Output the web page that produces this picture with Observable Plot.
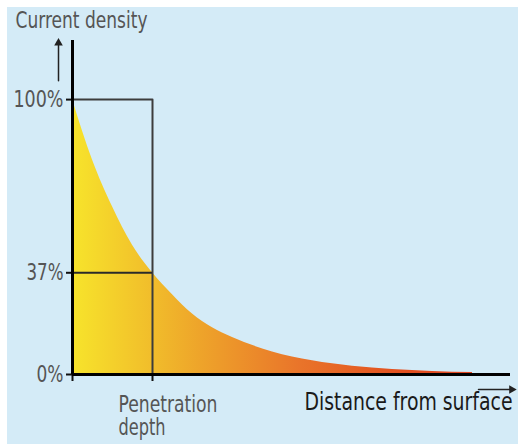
<!DOCTYPE html>
<html><head><meta charset="utf-8">
<script src="https://cdn.jsdelivr.net/npm/d3@7"></script>
<script src="https://cdn.jsdelivr.net/npm/@observablehq/plot@0.6"></script>
<style>
html,body{margin:0;padding:0;background:#fff;}
#chart{position:absolute;left:7px;top:7px;}
</style></head><body><div id="chart"></div>
<script>
// Distance in units of penetration depth, current density in % of surface value
const depth   = [0, 0.25, 0.5, 0.75, 1, 1.25, 1.5, 1.75, 2, 2.5, 3, 3.5, 4, 4.5, 5];
const density = [100, 78, 61, 47, 37, 29, 22, 17, 13.5, 8.2, 5, 3, 1.8, 1.1, 0.7];
const yTicks = [0, 37, 100];
const yTickLabels = ["0%", "37%", "100%"];
const xTicks = [0, 1];
const penetrationDepth = 1;
const surfaceLevel = 100;
const skinLevel = 37;
const xMax = 5.475;
const yMax = 121.5;
const title = "Current density";
const xTickLabel = "Penetration\ndepth";
const xLabel = "Distance from surface";
const upArrow = [{x: -0.175, y: 106.9}, {x: -0.175, y: 120.6}];
const rightArrow = [{x: 5.075, y: 0}, {x: 5.49, y: 0}];
// condensed-face text widths (px) seen in the reference
const textWidths = {"Current density": 132, "100%": 50, "37%": 37, "0%": 27,
  "Penetration": 99, "depth": 47, "Distance from surface": 208};

const curvePts = depth.map((d, i) => ({x: d, y: density[i]}));
const boxPts = [{x: 0, y: surfaceLevel}, {x: penetrationDepth, y: surfaceLevel}, {x: penetrationDepth, y: 0}];
const font = "'Liberation Sans Narrow','Arial Narrow','DejaVu Sans Condensed',sans-serif";
const gray = "#555";

const defs = () => {
  const g = d3.create("svg:g");
  const grad = g.append("defs").append("linearGradient")
    .attr("id", "heat").attr("x1", 0).attr("x2", 1).attr("y1", 0).attr("y2", 0);
  [[0, "#f7e42b"], [0.2, "#f1bd2b"], [0.32, "#eea42a"], [0.57, "#e9742a"], [0.82, "#e2501f"], [1, "#df4420"]]
    .forEach(([o, c]) => grad.append("stop").attr("offset", o).attr("stop-color", c));
  return g.node();
};

const chart = Plot.plot({
  width: 511, height: 437,
  marginLeft: 65, marginRight: 8, marginTop: 33, marginBottom: 70,
  style: {background: "#d4ebf7", fontFamily: font},
  x: {domain: [0, xMax], axis: null},
  y: {domain: [0, yMax], axis: null},
  marks: [
    defs,
    Plot.areaY(curvePts, {x: "x", y: "y", fill: "url(#heat)", curve: "monotone-x"}),
    Plot.line(boxPts, {x: "x", y: "y", stroke: "#3c3c3c", strokeWidth: 2}),
    Plot.ruleY([skinLevel], {x1: 0, x2: penetrationDepth, stroke: "#2a2a2a", strokeWidth: 2}),
    Plot.axisY({ticks: yTicks, tickFormat: d => yTickLabels[yTicks.indexOf(d)], tickSize: 6, tickPadding: 3,
      fontSize: 23, fill: gray, stroke: "#111", strokeWidth: 2, label: null}),
    Plot.axisX({ticks: xTicks, tickSize: 7, tickFormat: () => "", stroke: "#111", strokeWidth: 2, label: null}),
    Plot.ruleX([0], {y1: 0, y2: yMax, stroke: "#000", strokeWidth: 3}),
    Plot.ruleY([0], {x1: 0, x2: xMax, stroke: "#000", strokeWidth: 3}),
    Plot.text([xTickLabel], {x: penetrationDepth, y: 0, text: d => d, textAnchor: "start", lineAnchor: "top",
      dx: -34, dy: 21, fontSize: 23, fill: gray, lineHeight: 1.0}),
    Plot.text([xLabel], {x: xMax, y: 0, text: d => d, textAnchor: "end", lineAnchor: "top",
      dx: 2, dy: 18, fontSize: 25, fill: "#1a1a1a"}),
    Plot.text([title], {x: 0, y: yMax, text: d => d, textAnchor: "start", lineAnchor: "bottom",
      dx: -57, dy: -13, fontSize: 23, fill: gray}),
    Plot.line(upArrow, {x: "x", y: "y", stroke: "#222", strokeWidth: 1.5}),
    Plot.dot([upArrow[1]], {x: "x", y: "y", symbol: "triangle", r: 3.2, fill: "#222", stroke: null}),
    Plot.line(rightArrow, {x: "x", y: "y", dy: 15, stroke: "#222", strokeWidth: 1.5}),
    Plot.dot([rightArrow[1]], {x: "x", y: "y", dy: 15, symbol: "triangle", rotate: 90, r: 3.2, fill: "#222", stroke: null})
  ]
});
// compress text to the condensed widths of the reference
d3.select(chart).selectAll("text, tspan").each(function() {
  const el = this;
  if (el.tagName === "text" && el.querySelector("tspan")) return;
  const w = textWidths[el.textContent.trim()];
  if (w) { el.setAttribute("textLength", w); el.setAttribute("lengthAdjust", "spacingAndGlyphs"); }
});
document.getElementById("chart").append(chart);
</script></body></html>
